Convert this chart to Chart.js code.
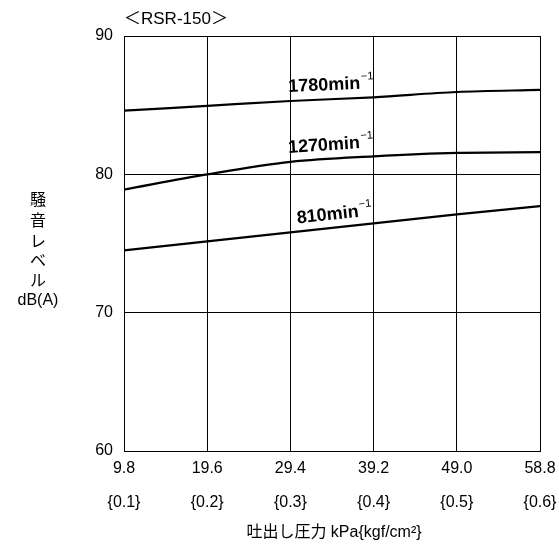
<!DOCTYPE html>
<html>
<head>
<meta charset="utf-8">
<script src="https://cdn.jsdelivr.net/npm/chart.js@4/dist/chart.umd.min.js"></script>
<style>
  html, body { margin: 0; padding: 0; background: #fff; }
  #wrap { width: 559px; height: 544px; position: relative; }
</style>
</head>
<body>
<div id="wrap"><canvas id="noiseChart"></canvas></div>
<script>
// 吐出し圧力 (kPa) と騒音レベル dB(A)
const pressureKpa = [9.8, 19.6, 29.4, 39.2, 49.0, 58.8];
const pressureLabels = ["9.8", "19.6", "29.4", "39.2", "49.0", "58.8"];
const kgfLabels = ["{0.1}", "{0.2}", "{0.3}", "{0.4}", "{0.5}", "{0.6}"];
const noise1780 = [84.6, 84.95, 85.3, 85.57, 85.95, 86.1];
const noise1270 = [78.9, 80.0, 80.9, 81.3, 81.55, 81.6];
const noise810 = [74.5, 75.15, 75.8, 76.45, 77.1, 77.7];
const speedLabels = ["1780min", "1270min", "810min"];

const FONT = '"Liberation Sans", Arial, "Noto Sans CJK JP", sans-serif';

// 見出し、縦書きの軸名、曲線ラベルを描く
const annotations = {
  id: "annotations",
  afterDatasetsDraw(chart) {
    const ctx = chart.ctx;
    ctx.save();
    ctx.fillStyle = "#000";

    // ＜RSR-150＞
    ctx.font = `17px ${FONT}`;
    ctx.textAlign = "left";
    ctx.textBaseline = "middle";
    ctx.fillText("＜RSR-150＞", 124, 19);

    // 縦軸タイトル
    ctx.font = `16px ${FONT}`;
    ctx.textAlign = "center";
    const yTitle = ["騒", "音", "レ", "ベ", "ル", "dB(A)"];
    const yPos = [201, 222, 243, 262, 282, 301];
    yTitle.forEach((t, i) => ctx.fillText(t, 38, yPos[i]));

    // 横軸タイトル
    ctx.fillText("吐出し圧力 kPa{kgf/cm²}", 334, 533);

    // 曲線ラベル（回転数）
    const shiftX = [-2, -2, 7];
    chart.data.datasets.forEach((ds, i) => {
      const pts = chart.getDatasetMeta(i).data;
      const a = pts[2], b = pts[3];
      const angle = Math.atan2(b.y - a.y, b.x - a.x);
      ctx.save();
      ctx.translate(a.x + shiftX[i], a.y - 9);
      ctx.rotate(angle);
      ctx.textAlign = "left";
      ctx.textBaseline = "alphabetic";
      ctx.font = `bold 18px ${FONT}`;
      ctx.fillText(speedLabels[i], 0, 0);
      const w = ctx.measureText(speedLabels[i]).width;
      ctx.font = `11px ${FONT}`;
      ctx.fillText("−1", w + 1, -9);
      ctx.restore();
    });
    ctx.restore();
  },
};

const makeSet = (values) => ({
  data: values.map((v, i) => ({ x: pressureKpa[i], y: v })),
  borderColor: "#000",
  borderWidth: 2.2,
  pointRadius: 0,
  fill: false,
  cubicInterpolationMode: "monotone",
});

new Chart(document.getElementById("noiseChart"), {
  type: "line",
  data: { datasets: [makeSet(noise1780), makeSet(noise1270), makeSet(noise810)] },
  options: {
    responsive: true,
    maintainAspectRatio: false,
    animation: false,
    layout: { padding: { top: 36, right: 19, left: 0, bottom: 0 } },
    plugins: { legend: { display: false }, tooltip: { enabled: false } },
    scales: {
      x: {
        type: "linear",
        min: 9.8,
        max: 58.8,
        afterBuildTicks: (scale) => { scale.ticks = pressureKpa.map((v) => ({ value: v })); },
        afterFit: (scale) => { scale.height = 93; },
        afterUpdate: (scale) => { scale.paddingRight = 0; },
        grid: { color: "#000", lineWidth: 1, drawTicks: false },
        border: { color: "#000", width: 1 },
        ticks: {
          color: "#000",
          font: { family: FONT, size: 16, lineHeight: 2.1 },
          padding: 1,
          maxRotation: 0,
          autoSkip: false,
          callback: (v, i) => [pressureLabels[i], kgfLabels[i]],
        },
      },
      y: {
        min: 60,
        max: 90,
        afterFit: (scale) => { scale.width = 124; },
        grid: { color: "#000", lineWidth: 1, drawTicks: false },
        border: { color: "#000", width: 1 },
        ticks: {
          stepSize: 10,
          color: "#000",
          font: { family: FONT, size: 16 },
          padding: 11,
        },
      },
    },
  },
  plugins: [annotations],
});
</script>
</body>
</html>
